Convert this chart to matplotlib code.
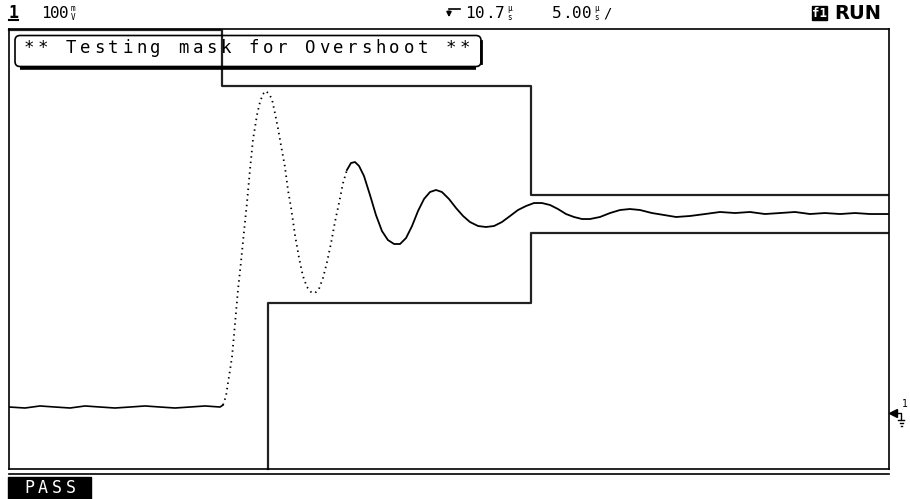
"""Scope screenshot: mask test for overshoot on a step response."""

import numpy as np
from matplotlib import pyplot as plt
from matplotlib.patches import FancyBboxPatch, Rectangle

# screen scales: 5.00 us/div (10 div), 100 mV/div (8 div)
T_SPAN = (0.0, 50.0)
V_SPAN = (-109.1, 690.9)

# captured trace, time in us from left edge of screen, level in mV
trace_t = [
    0.00, 0.91, 1.76, 2.61, 3.47, 4.32, 5.17, 6.02, 6.88, 7.73, 8.58, 9.43,
    10.28, 11.14, 11.99, 12.16, 12.33, 12.44, 12.56, 12.67, 12.78, 12.90,
    13.01, 13.18, 13.35, 13.52, 13.69, 13.86, 14.09, 14.26, 14.43, 14.60,
    14.77, 14.94, 15.11, 15.28, 15.45, 15.68, 15.85, 16.02, 16.25, 16.48,
    16.70, 16.93, 17.16, 17.39, 17.61, 17.84, 18.07, 18.30, 18.52, 18.75,
    18.98, 19.20, 19.43, 19.66, 19.89, 20.17, 20.51, 20.85, 21.19, 21.53,
    21.88, 22.22, 22.56, 22.90, 23.24, 23.58, 23.92, 24.26, 24.60, 25.00,
    25.40, 25.80, 26.19, 26.65, 27.10, 27.56, 28.01, 28.47, 28.92, 29.38,
    29.83, 30.28, 30.74, 31.19, 31.65, 32.10, 32.56, 33.01, 33.58, 34.15,
    34.72, 35.28, 35.85, 36.53, 37.22, 37.90, 38.69, 39.55, 40.40, 41.25,
    42.10, 42.95, 43.81, 44.66, 45.51, 46.36, 47.22, 48.07, 48.92, 49.94,
]
trace_mv = [
    3.6, 1.8, 5.5, 3.6, 1.8, 5.5, 3.6, 1.8, 3.6, 5.5, 3.6, 1.8,
    3.6, 5.5, 3.6, 7.3, 23.6, 47.3, 70.9, 94.5, 132.7, 176.3,
    216.3, 267.2, 321.8, 374.5, 434.5, 489.0, 534.5, 558.1, 572.7, 578.1,
    572.7, 563.6, 538.1, 510.9, 480.0, 440.0, 398.2, 367.2, 316.3, 274.5,
    241.8, 221.8, 212.7, 210.9, 218.2, 238.2, 267.2, 301.8, 340.0, 374.5,
    410.9, 434.5, 447.2, 449.0, 441.8, 423.6, 389.1, 352.7, 323.6, 307.2,
    300.0, 300.0, 310.9, 332.7, 360.0, 381.8, 394.5, 398.2, 394.5, 381.8,
    365.4, 350.9, 340.0, 332.7, 330.9, 332.7, 340.0, 350.9, 361.8, 369.1,
    374.5, 374.5, 370.9, 363.6, 354.5, 349.1, 345.4, 345.4, 349.1, 356.3,
    361.8, 363.6, 361.8, 356.3, 352.7, 349.1, 350.9, 354.5, 358.2, 356.3,
    358.2, 354.5, 356.3, 358.2, 354.5, 356.3, 354.5, 356.3, 354.5, 354.5,
]

# mask limits
mask_upper_t = [0.00, 12.10, 12.10, 29.66, 29.66, 49.94]
mask_upper_mv = [689.0, 689.0, 587.3, 587.3, 389.1, 389.1]
mask_lower_t = [14.72, 14.72, 29.66, 29.66, 49.94]
mask_lower_mv = [-109.1, 192.7, 192.7, 320.0, 320.0]

# time window where the fast edge shows up as separate samples
FAST_EDGE = (12.1, 19.3)

TITLE = "** Testing mask for Overshoot **"
STATUS = "PASS"

MONO = "DejaVu Sans Mono"


def mono_text(ax, text, x0, pitch, y, **kw):
    # place each character on a fixed pitch like the scope's pixel font
    for i, ch in enumerate(text):
        ax.text(x0 + pitch * (i + 0.5), y, ch, ha="center", va="center",
                family=MONO, **kw)


def stacked_unit(ax, top, bottom, x, y):
    ax.text(x, y - 4.5, top, ha="center", va="center", fontsize=5.5, family=MONO)
    ax.text(x, y + 4.5, bottom, ha="center", va="center", fontsize=5.5, family=MONO)


def main():
    fig = plt.figure(figsize=(9.10, 4.99), dpi=100)

    # scope screen
    ax = fig.add_axes([9 / 910, 30 / 499, 880 / 910, 440 / 499])
    ax.set_xlim(*T_SPAN)
    ax.set_ylim(*V_SPAN)
    ax.set_xticks([])
    ax.set_yticks([])
    for spine in ax.spines.values():
        spine.set_linewidth(1.2)

    t = np.array(trace_t)
    v = np.array(trace_mv)
    slow_a = t <= FAST_EDGE[0] + 0.1
    fast = (t >= FAST_EDGE[0]) & (t <= FAST_EDGE[1])
    slow_b = t >= FAST_EDGE[1] - 0.3
    ax.plot(t[slow_a], v[slow_a], color="black", lw=1.2)
    ax.plot(t[fast], v[fast], color="black", lw=1.3, linestyle=(0, (0.8, 2.2)))
    ax.plot(t[slow_b], v[slow_b], color="black", lw=1.3)

    ax.plot(mask_upper_t, mask_upper_mv, color="#222222", lw=1.6, clip_on=False)
    ax.plot(mask_lower_t, mask_lower_mv, color="#222222", lw=1.6, clip_on=False)

    # overlay in screen pixels for the scope annotations
    ov = fig.add_axes([0, 0, 1, 1], zorder=5)
    ov.set_xlim(0, 910)
    ov.set_ylim(499, 0)
    ov.axis("off")

    # second line under the screen
    ov.plot([9, 889], [473.5, 473.5], color="black", lw=1.2)

    # header line
    ov.text(13.5, 13, "1", ha="center", va="center", family=MONO,
            fontsize=12, fontweight="bold")
    ov.plot([9, 18], [19.5, 19.5], color="black", lw=1.5)
    mono_text(ov, "100", 41, 9, 13, fontsize=11.5)
    stacked_unit(ov, "m", "V", 73, 13)

    ov.plot([449, 460], [9, 9], color="black", lw=1.2)
    ov.annotate("", xy=(449, 20), xytext=(449, 8.5),
                arrowprops=dict(arrowstyle="-|>", color="black", lw=1.2,
                                mutation_scale=7))
    mono_text(ov, "10.7", 465, 10, 13, fontsize=11.5)
    stacked_unit(ov, "\u00b5", "s", 510, 13)
    mono_text(ov, "5.00", 552, 10, 13, fontsize=11.5)
    stacked_unit(ov, "\u00b5", "s", 597, 13)
    ov.text(608, 13, "/", ha="center", va="center", family=MONO, fontsize=10)

    ov.add_patch(Rectangle((812, 6), 15, 14, color="black"))
    ov.text(819.5, 13, "f1", ha="center", va="center", family=MONO,
            fontsize=9, fontweight="bold", color="white")
    ov.text(858, 13.5, "RUN", ha="center", va="center", fontsize=14,
            fontweight="bold")

    # message box
    ov.add_patch(FancyBboxPatch((15, 35.5), 466, 31,
                                boxstyle="round,pad=0,rounding_size=5",
                                fill=False, lw=1.2, ec="black"))
    ov.plot([20, 476], [67.5, 67.5], color="black", lw=2.6,
            solid_capstyle="butt")
    ov.plot([481, 481], [41, 63], color="black", lw=2.0)
    mono_text(ov, TITLE, 22, 14.06, 48, fontsize=12.5)

    # ground reference marker for channel 1
    ov.plot([893], [413], marker="<", color="black", markersize=6)
    ov.plot([893, 901, 901], [413, 413, 419], color="black", lw=1.0)
    ov.plot([898, 904], [420, 420], color="black", lw=1.0)
    ov.plot([899.5, 902.5], [423, 423], color="black", lw=1.0)
    ov.plot([900.5, 901.5], [426, 426], color="black", lw=1.0)
    ov.text(905, 404, "1", ha="center", va="center", family=MONO, fontsize=7)

    # test result
    ov.add_patch(Rectangle((8, 477), 83, 22, color="black"))
    mono_text(ov, STATUS, 22, 14, 488, fontsize=12, color="white")

    fig.savefig("out.png", dpi=100)


if __name__ == "__main__":
    main()
